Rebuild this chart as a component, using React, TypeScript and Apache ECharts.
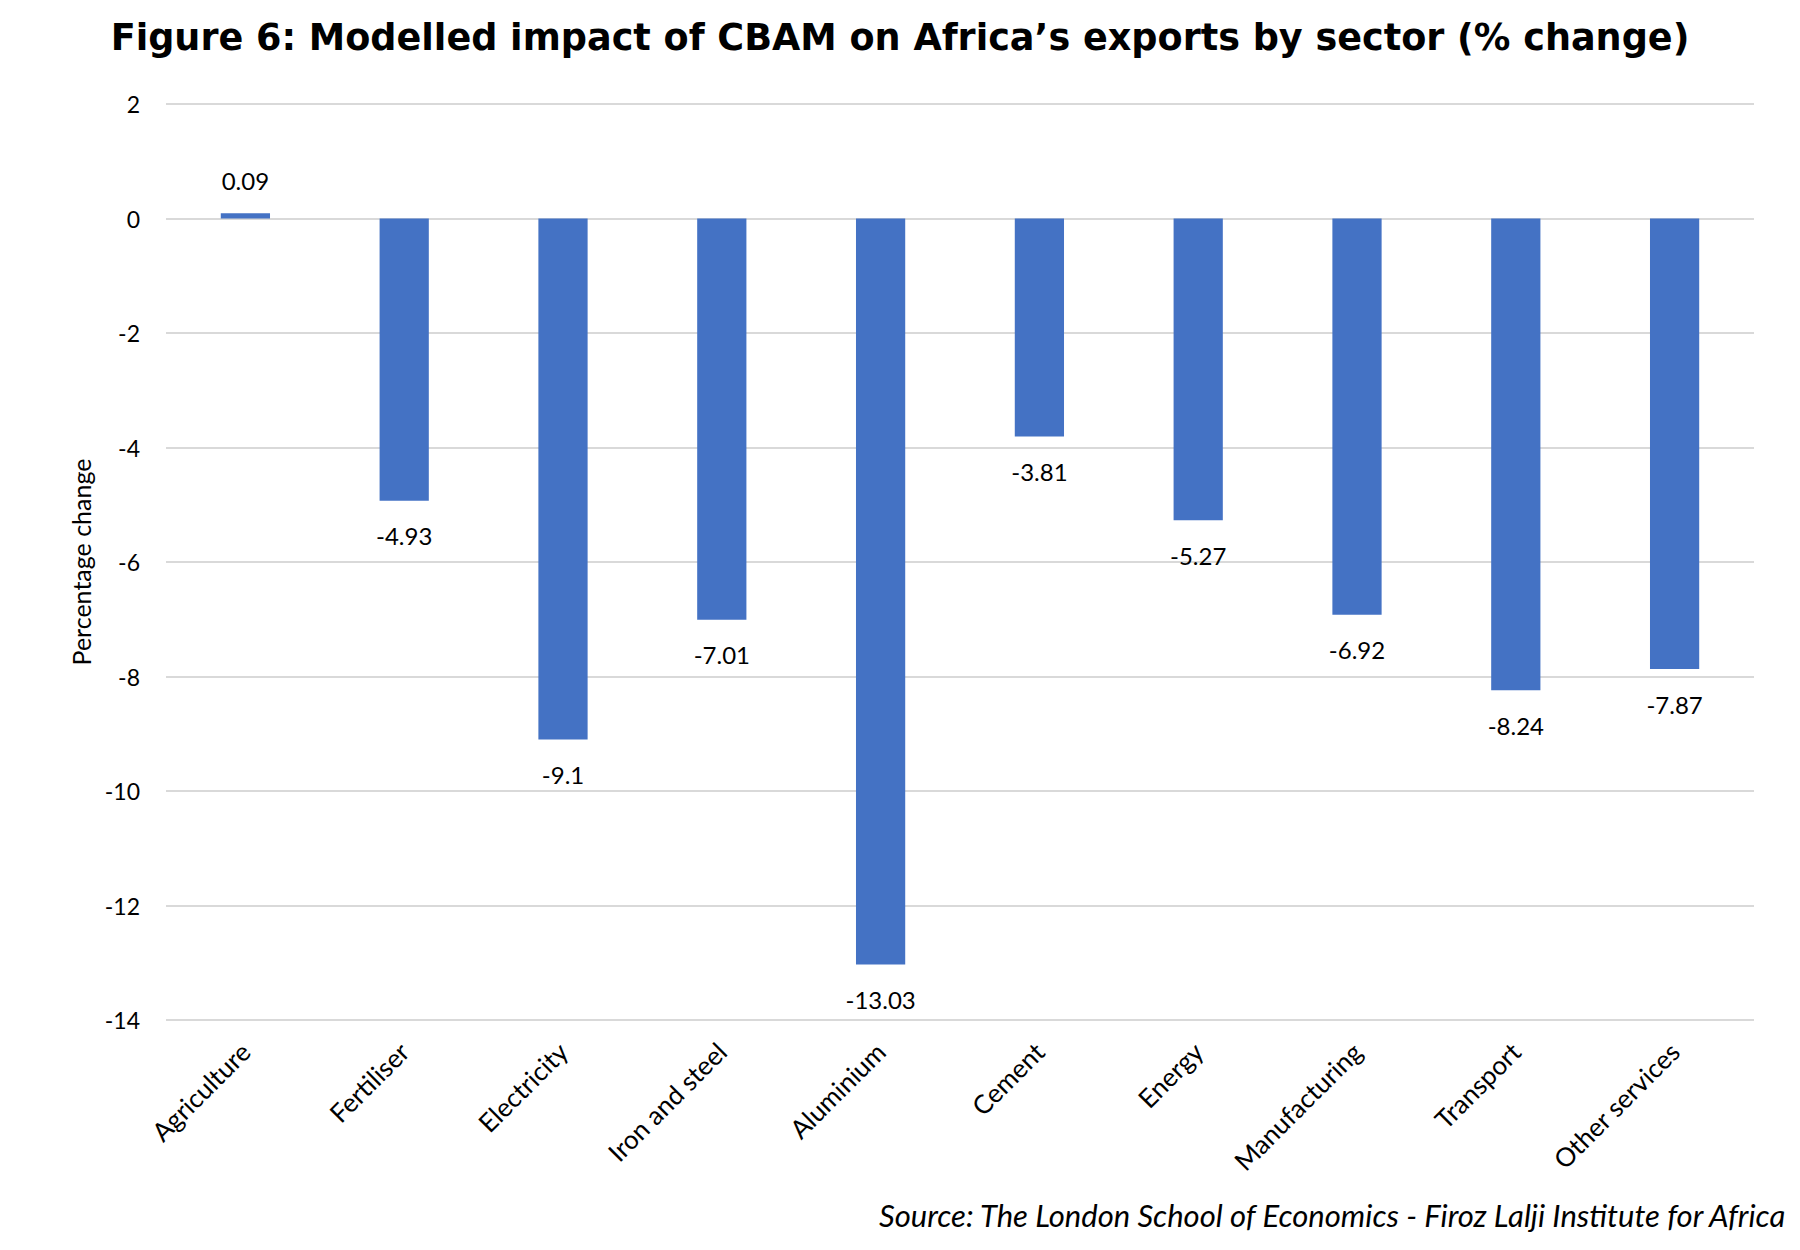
import React, { useEffect, useRef } from "react";
import * as echarts from "echarts";

const categories = [
  "Agriculture",
  "Fertiliser",
  "Electricity",
  "Iron and steel",
  "Aluminium",
  "Cement",
  "Energy",
  "Manufacturing",
  "Transport",
  "Other services",
];
const values = [0.09, -4.93, -9.1, -7.01, -13.03, -3.81, -5.27, -6.92, -8.24, -7.87];
const yTicks = { min: -14, max: 2, interval: 2 };
const titleText = "Figure 6: Modelled impact of CBAM on Africa\u2019s exports by sector (% change)";
const sourceText = "Source: The London School of Economics - Firoz Lalji Institute for Africa";
const yAxisName = "Percentage change";

export default function App() {
  const ref = useRef<HTMLDivElement>(null);
  useEffect(() => {
    if (!ref.current) return;
    const chart = echarts.init(ref.current, undefined, { renderer: "svg" });
    const font = "Lato";
    chart.setOption({
      animation: false,
      backgroundColor: "#ffffff",
      title: {
        text: titleText,
        left: "center",
        top: 14,
        textStyle: {
          fontFamily: "DejaVu Sans",
          fontWeight: "bold",
          fontSize: 36.6,
          color: "#000",
        },
      },
      graphic: [
        {
          type: "text",
          right: 12,
          top: 1199,
          style: {
            text: sourceText,
            font: "italic 31px Lato",
            fill: "#000",
          },
        },
      ],
      grid: { left: 166, right: 46, top: 104, bottom: 230, containLabel: false },
      xAxis: {
        type: "category",
        data: categories,
        axisLine: { show: false },
        axisTick: { show: false },
        axisLabel: {
          rotate: 45,
          margin: 27,
          fontFamily: font,
          fontSize: 26,
          color: "#000",
          interval: 0,
        },
      },
      yAxis: {
        type: "value",
        min: yTicks.min,
        max: yTicks.max,
        interval: yTicks.interval,
        name: yAxisName,
        nameLocation: "middle",
        nameGap: 71,
        nameTextStyle: { fontFamily: font, fontSize: 25, color: "#000" },
        axisLine: { show: false },
        axisTick: { show: false },
        axisLabel: { margin: 26, fontFamily: font, fontSize: 23, color: "#000" },
        splitLine: { lineStyle: { color: "#D9D9D9", width: 2 } },
      },
      series: [
        {
          type: "bar",
          barWidth: "31%",
          itemStyle: { color: "#4472C4" },
          data: values.map((v) => ({
            value: v,
            label: {
              show: true,
              position: v >= 0 ? "top" : "bottom",
              distance: v >= 0 ? 21 : 23,
              fontFamily: font,
              fontSize: 24,
              color: "#000",
            },
          })),
        },
      ],
    });
    return () => chart.dispose();
  }, []);
  return (
    <div
      ref={ref}
      style={{ position: "absolute", left: 0, top: 0, width: 1800, height: 1250 }}
    />
  );
}
